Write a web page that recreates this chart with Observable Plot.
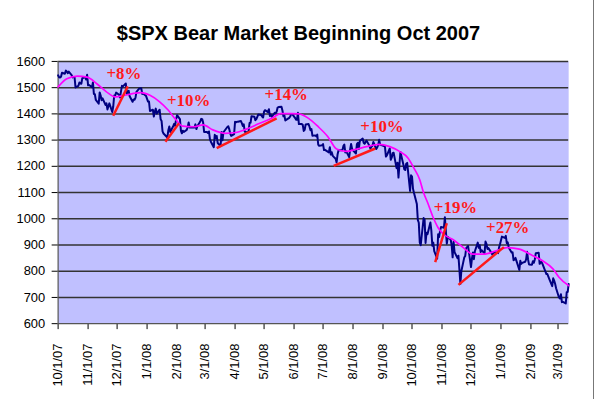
<!DOCTYPE html>
<html>
<head>
<meta charset="utf-8">
<script src="https://cdn.jsdelivr.net/npm/d3@7"></script>
<script src="https://cdn.jsdelivr.net/npm/@observablehq/plot@0.6"></script>
<style>
  html, body { margin: 0; padding: 0; background: #fff; }
  #wrap { position: relative; width: 593px; height: 399px; border-right: 1px solid #777; overflow: hidden; }
  #title { position: absolute; left: 0; top: 22px; width: 597px; text-align: center;
           font: bold 20px Arial, "Liberation Sans", sans-serif; line-height: 23px; color: #000; }
  #chart { position: absolute; left: 0; top: 52px; }
</style>
</head>
<body>
<div id="wrap">
  <div id="title">$SPX Bear Market Beginning Oct 2007</div>
  <div id="chart"></div>
</div>
<script>
// ---- Daily $SPX closes, [day, close] per month ----
const oct07 = [[1,1547],[2,1540],[3,1539],[4,1542],[5,1557],[8,1553],[9,1565],[10,1562],[11,1555],[12,1561],[15,1548],[16,1539],[17,1541],[18,1540],[19,1501],[22,1507],[23,1520],[24,1516],[25,1515],[26,1536],[29,1540],[30,1531],[31,1549]];
const nov07 = [[1,1509],[2,1510],[5,1502],[6,1520],[7,1476],[8,1475],[9,1453],[12,1439],[13,1482],[14,1470],[15,1452],[16,1459],[19,1434],[20,1440],[21,1417],[23,1440],[26,1407],[27,1428],[28,1470],[29,1470],[30,1481]];
const dec07 = [[3,1473],[4,1463],[5,1485],[6,1507],[7,1505],[10,1516],[11,1477],[12,1486],[13,1488],[14,1467],[17,1446],[18,1455],[19,1454],[20,1461],[21,1484],[24,1497],[26,1498],[27,1476],[28,1478],[31,1468]];
const jan08 = [[2,1447],[3,1447],[4,1411],[7,1416],[8,1390],[9,1409],[10,1420],[11,1401],[14,1416],[15,1380],[16,1373],[17,1333],[18,1325],[22,1310],[23,1338],[24,1352],[25,1331],[28,1353],[29,1362],[30,1355],[31,1379]];
const feb08 = [[1,1395],[4,1380],[5,1336],[6,1326],[7,1336],[8,1331],[11,1339],[12,1349],[13,1367],[14,1348],[15,1349],[19,1348],[20,1360],[21,1342],[22,1353],[25,1371],[26,1381],[27,1380],[28,1367],[29,1331]];
const mar08 = [[3,1331],[4,1327],[5,1333],[6,1304],[7,1294],[10,1273],[11,1320],[12,1308],[13,1316],[14,1289],[17,1277],[18,1331],[19,1299],[20,1330],[24,1350],[25,1353],[26,1342],[27,1325],[28,1316],[31,1323]];
const apr08 = [[1,1370],[2,1368],[3,1370],[4,1370],[7,1373],[8,1365],[9,1354],[10,1360],[11,1332],[14,1329],[15,1334],[16,1365],[17,1366],[18,1391],[21,1389],[22,1376],[23,1380],[24,1389],[25,1398],[28,1396],[29,1390],[30,1386]];
const may08 = [[1,1409],[2,1414],[5,1407],[6,1418],[7,1392],[8,1397],[9,1389],[12,1404],[13,1403],[14,1408],[15,1424],[16,1426],[19,1427],[20,1413],[21,1391],[22,1394],[23,1375],[27,1385],[28,1390],[29,1399],[30,1400]];
const jun08 = [[2,1385],[3,1378],[4,1378],[5,1404],[6,1361],[9,1361],[10,1358],[11,1335],[12,1339],[13,1360],[16,1361],[17,1351],[18,1338],[19,1342],[20,1317],[23,1318],[24,1314],[25,1321],[26,1283],[27,1278],[30,1280]];
const jul08 = [[1,1285],[2,1262],[3,1263],[7,1253],[8,1273],[9,1245],[10,1254],[11,1240],[14,1229],[15,1215],[16,1245],[17,1261],[18,1261],[21,1261],[22,1277],[23,1283],[24,1253],[25,1257],[28,1235],[29,1264],[30,1285],[31,1267]];
const aug08 = [[1,1261],[4,1249],[5,1285],[6,1290],[7,1266],[8,1297],[11,1306],[12,1290],[13,1286],[14,1293],[15,1298],[18,1278],[19,1267],[20,1275],[21,1278],[22,1293],[25,1266],[26,1272],[27,1281],[28,1301],[29,1283]];
const sep08 = [[2,1277],[3,1275],[4,1237],[5,1242],[8,1268],[9,1225],[10,1233],[11,1250],[12,1252],[15,1193],[16,1214],[17,1157],[18,1207],[19,1255],[22,1208],[23,1189],[24,1186],[25,1210],[26,1213],[29,1106],[30,1166]];
const oct08 = [[1,1161],[2,1115],[3,1099],[6,1056],[7,996],[8,985],[9,910],[10,899],[13,1003],[14,998],[15,908],[16,947],[17,941],[20,986],[21,955],[22,897],[23,909],[24,877],[27,848],[28,941],[29,930],[30,954],[31,969]];
const nov08 = [[3,966],[4,1006],[5,953],[6,905],[7,931],[10,920],[11,899],[12,853],[13,912],[14,873],[17,850],[18,859],[19,807],[20,752],[21,800],[24,852],[25,858],[26,888],[28,896]];
const dec08 = [[1,816],[2,849],[3,871],[4,846],[5,876],[8,909],[9,889],[10,899],[11,873],[12,880],[15,868],[16,913],[17,904],[18,885],[19,888],[22,871],[23,863],[24,869],[26,873],[29,869],[30,890],[31,903]];
const jan09 = [[2,932],[5,927],[6,935],[7,907],[8,910],[9,890],[12,871],[13,872],[14,842],[15,844],[16,851],[20,805],[21,840],[22,828],[23,832],[26,836],[27,845],[28,874],[29,845],[30,826]];
const feb09 = [[2,825],[3,838],[4,832],[5,845],[6,869],[9,870],[10,828],[11,834],[12,835],[13,827],[17,789],[18,789],[19,779],[20,770],[23,743],[24,773],[25,764],[26,752],[27,735]];
const mar09 = [[2,700],[3,696],[4,712],[5,682],[6,683],[9,677],[10,720],[11,721],[12,751]];
const spxMonths = [["2007-10",oct07],["2007-11",nov07],["2007-12",dec07],["2008-01",jan08],["2008-02",feb08],["2008-03",mar08],["2008-04",apr08],["2008-05",may08],["2008-06",jun08],["2008-07",jul08],["2008-08",aug08],["2008-09",sep08],["2008-10",oct08],["2008-11",nov08],["2008-12",dec08],["2009-01",jan09],["2009-02",feb09],["2009-03",mar09]];

// ---- Moving average (magenta) ----
const maDates = ["2007-10-01","2007-10-10","2007-10-21","2007-10-31","2007-11-10","2007-11-20","2007-11-29","2007-12-09","2007-12-18","2007-12-26","2008-01-04","2008-01-14","2008-01-23","2008-01-31","2008-02-07","2008-02-18","2008-02-28","2008-03-09","2008-03-22","2008-04-02","2008-04-12","2008-04-26","2008-05-09","2008-05-18","2008-05-30","2008-06-06","2008-06-16","2008-06-26","2008-07-06","2008-07-15","2008-07-25","2008-08-04","2008-08-15","2008-08-28","2008-09-08","2008-09-18","2008-09-27","2008-10-03","2008-10-09","2008-10-13","2008-10-17","2008-10-23","2008-10-28","2008-11-03","2008-11-13","2008-11-23","2008-12-03","2008-12-14","2008-12-27","2009-01-07","2009-01-20","2009-02-03","2009-02-13","2009-02-24","2009-03-02","2009-03-12"];
const maValues = [1503,1534,1544,1540,1515,1484,1465,1471,1478,1481,1471,1446,1414,1377,1353,1351,1358,1339,1326,1329,1341,1363,1383,1401,1401,1400,1383,1351,1313,1266,1257,1265,1275,1284,1275,1257,1231,1193,1149,1099,1063,1004,966,940,919,890,865,865,878,890,884,859,840,808,777,745];

// ---- Rally trend lines and their labels ----
const rallyLabels = ["+8%","+10%","+14%","+10%","+19%","+27%"];
const rallyStartDates = ["2007-11-27","2008-01-20","2008-03-13","2008-07-12","2008-10-25","2008-11-18"];
const rallyStartValues = [1393,1294,1269,1202,835,748];
const rallyEndDates = ["2007-12-12","2008-02-03","2008-05-14","2008-08-24","2008-11-06","2009-01-04"];
const rallyEndValues = [1505,1364,1383,1268,983,892];
const labelDates = ["2007-12-08","2008-02-13","2008-05-24","2008-08-31","2008-11-15","2009-01-08"];
const labelValues = [1555,1452,1475,1350,1043,967];

// ---- Axes ----
const yTicks = [600,700,800,900,1000,1100,1200,1300,1400,1500,1600];
const xTickDates = ["2007-10-01","2007-11-01","2007-12-01","2008-01-01","2008-02-01","2008-03-01","2008-04-01","2008-05-01","2008-06-01","2008-07-01","2008-08-01","2008-09-01","2008-10-01","2008-11-01","2008-12-01","2009-01-01","2009-02-01","2009-03-01"];
const xStart = "2007-10-01", xEnd = "2009-03-12";

// ---- build tables ----
const D = s => new Date(s + "T00:00:00Z");
const spx = [];
for (const [ym, rows] of spxMonths) for (const [d, c] of rows) spx.push({date: D(`${ym}-${String(d).padStart(2,"0")}`), close: c});
const ma = maDates.map((d, i) => ({date: D(d), value: maValues[i]}));
const rallies = rallyLabels.map((t, i) => ({
  x1: D(rallyStartDates[i]), y1: rallyStartValues[i],
  x2: D(rallyEndDates[i]), y2: rallyEndValues[i],
  lx: D(labelDates[i]), ly: labelValues[i], text: t
}));
const fmt = d => `${d.getUTCMonth()+1}/${d.getUTCDate()}/${String(d.getUTCFullYear()).slice(2)}`;

const chart = Plot.plot({
  width: 597,
  height: 347,
  marginTop: 9,
  marginBottom: 74,
  marginLeft: 58,
  marginRight: 25,
  style: {fontFamily: "Arial, 'Liberation Sans', sans-serif", fontSize: "13px", color: "#000", background: "transparent"},
  x: {type: "utc", domain: [D(xStart), D(xEnd)], ticks: xTickDates.map(D), tickFormat: fmt, tickRotate: -90, tickSize: 6, tickPadding: 14, label: null},
  y: {domain: [600, 1600], ticks: yTicks, tickFormat: d => String(d), tickSize: 6, tickPadding: 7, label: null},
  marks: [
    Plot.frame({fill: "#C0C0FF", stroke: "none"}),
    Plot.ruleY(yTicks.filter(v => v > 600), {stroke: "#333", strokeWidth: 1.5}),
    Plot.ruleX([D(xStart)], {stroke: "#555", strokeWidth: 1.2}),
    Plot.ruleY([600], {stroke: "#555", strokeWidth: 1.2}),
    Plot.line(spx, {x: "date", y: "close", stroke: "#000080", strokeWidth: 2}),
    Plot.line(ma, {x: "date", y: "value", stroke: "#FF00FF", strokeWidth: 1.7, curve: "monotone-x"}),
    Plot.link(rallies, {x1: "x1", y1: "y1", x2: "x2", y2: "y2", stroke: "#FF1A1A", strokeWidth: 2.5}),
    Plot.text(rallies, {x: "lx", y: "ly", text: "text", fill: "#FF1A1A", fontSize: 17, fontWeight: "bold", fontFamily: "'Times New Roman', 'Liberation Serif', serif"})
  ]
});
document.getElementById("chart").appendChild(chart);
</script>
</body>
</html>
